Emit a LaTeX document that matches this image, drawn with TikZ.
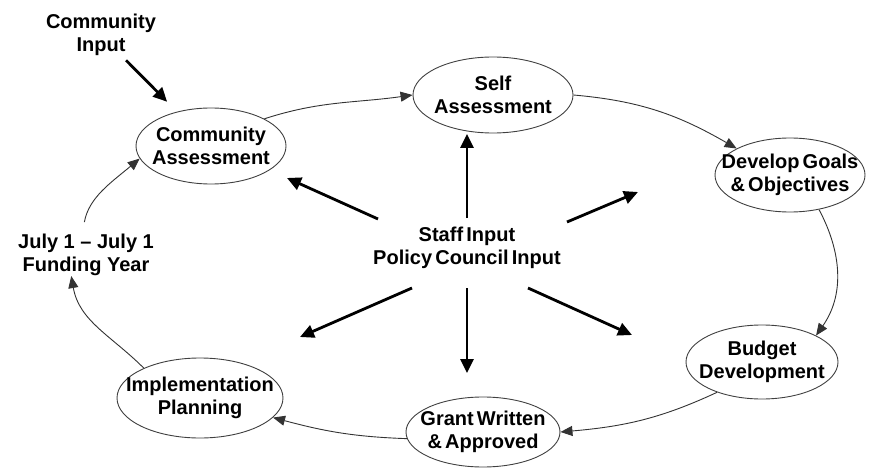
\documentclass[tikz,border=0pt]{standalone}
\usepackage{fontspec}
\setmainfont{Liberation Sans}
\usetikzlibrary{shapes.geometric}
\usetikzlibrary{arrows.meta, calc}

\newcommand\narrowspace{\spaceskip=3.2pt\relax}

\begin{document}
\begin{tikzpicture}[x=1pt, y=1pt,
    every node/.style={font=\fontsize{20}{23}\selectfont\bfseries, align=center, inner sep=0pt},
    tight/.style={font=\fontsize{20}{23}\selectfont\bfseries\narrowspace},
    phase/.style={ellipse, draw=black!75, line width=0.9pt, tight, inner xsep=-50pt, inner ysep=-30pt},
    loop arrow/.style={draw=black!80, line width=0.9pt, -{Triangle[length=12pt,width=10pt]}},
    spoke/.style={line width=2.8pt, -{Triangle[length=14pt,width=13pt]}}]
    \useasboundingbox (0,0) rectangle (870,472);

    % stages of the yearly cycle
    \node[phase, minimum width=150pt, minimum height=76pt] (ca) at (211,326) {Community\\Assessment};
    \node[phase, minimum width=160pt, minimum height=76pt] (sa) at (493,377) {Self\\Assessment};
    \node[phase, minimum width=150pt, minimum height=74pt] (dg) at (790,297) {Develop Goals\\\& Objectives};
    \node[phase, minimum width=152pt, minimum height=74pt] (bd) at (762,110) {Budget\\Development};
    \node[phase, minimum width=154pt, minimum height=70pt] (gw) at (483,40) {Grant Written\\\& Approved};
    \node[phase, minimum width=166pt, minimum height=80pt] (ip) at (200,74) {Implementation\\Planning};

    % free labels
    \node (ci) at (101,437) {Community\\Input};
    \node (fy) at (86,217) {July 1 -- July 1\\Funding Year};
    \node[tight] (st) at (467,224) {Staff Input\\Policy Council Input};

    % the cycle
    \draw[loop arrow] (ca.north east) to[out=18,in=188] (sa.west);
    \draw[loop arrow] (sa.east) to[out=-5,in=150] (dg.north west);
    \draw[loop arrow] (dg.-50) to[out=-62,in=55] (bd.north east);
    \draw[loop arrow] (bd.214) to[out=205,in=5] (gw.east);
    \draw[loop arrow] (gw.185) to[out=178,in=-15] (ip.-15);
    \draw[loop arrow] (ip.152) to[out=135,in=-80] (fy.235);
    \draw[loop arrow, shorten <=12pt] (fy.100) to[out=80,in=220] (ca.190);

    % input arrows
    \draw[spoke, shorten <=6pt, shorten >=14pt] (ci) -- (ca);
    \foreach \tx/\ty/\hx/\hy in {-89/29/-180/70, 0/30/0/114, 100/26/171/56,
                                 -55/-40/-167/-89, 0/-40/0/-125, 61/-40/165/-87}
        \draw[spoke] ($(st)+(\tx,\ty)$) -- ($(st)+(\hx,\hy)$);
\end{tikzpicture}
\end{document}
